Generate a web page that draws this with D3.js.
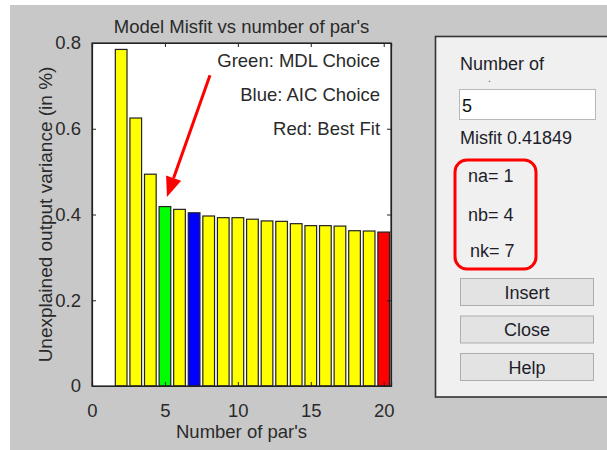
<!DOCTYPE html>
<html>
<head>
<meta charset="utf-8">
<script src="https://cdn.jsdelivr.net/npm/d3@7"></script>
<style>
  html, body { margin: 0; padding: 0; background: #ffffff; }
  svg { display: block; }
  text { font-family: "Liberation Sans", Arial, sans-serif; }
</style>
</head>
<body>
<script>
// ---------- data ----------
const numPars   = [2, 3, 4, 5, 6, 7, 8, 9, 10, 11, 12, 13, 14, 15, 16, 17, 18, 19, 20];
const misfit    = [0.785, 0.625, 0.494, 0.4185, 0.412, 0.404, 0.3965, 0.3926, 0.3926, 0.389,
                   0.385, 0.384, 0.3786, 0.374, 0.374, 0.373, 0.3622, 0.3615, 0.359];
const mdlChoice = 5;
const aicChoice = 7;
const bestFit   = 20;
const xTicks    = [0, 5, 10, 15, 20];
const yTicks    = [0, 0.2, 0.4, 0.6, 0.8];
const notes     = ["Green: MDL Choice", "Blue: AIC Choice", "Red: Best Fit"];
const noteY     = [0.745, 0.665, 0.585];
const arrowFrom = [8.09, 0.725];
const arrowTo   = [5.14, 0.441];
const panelLines = ["na= 1", "nb= 4", "nk= 7"];
const buttons   = ["Insert", "Close", "Help"];
const selectedN = "5";
const misfitTxt = "0.41849";

// ---------- layout ----------
const W = 607, H = 450;
const m = { left: 92, top: 43, right: 391, bottom: 386 };

const svg = d3.select("body").append("svg").attr("width", W).attr("height", H);

svg.append("rect").attr("x", 10).attr("y", 5).attr("width", W - 10).attr("height", H - 5)
  .attr("fill", "#c8c8c8");

const x = d3.scaleLinear().domain([0, 20.5]).range([m.left, m.right]);
const y = d3.scaleLinear().domain([0, 0.8]).range([m.bottom, m.top]);

// axes background
svg.append("rect").attr("x", m.left).attr("y", m.top)
  .attr("width", m.right - m.left).attr("height", m.bottom - m.top)
  .attr("fill", "#ffffff");

// bars
const bw = x(0.8) - x(0);
const colorOf = n => n === mdlChoice ? "#00ff00" : n === aicChoice ? "#0000ff" : n === bestFit ? "#ff0000" : "#ffff00";
svg.append("g").selectAll("rect").data(numPars).join("rect")
  .attr("x", (d) => x(d) - bw / 2)
  .attr("y", (d, i) => y(misfit[i]))
  .attr("width", bw)
  .attr("height", (d, i) => y(0) - y(misfit[i]))
  .attr("fill", d => colorOf(d))
  .attr("stroke", "#222")
  .attr("stroke-width", 1.2);

// axes (inward ticks, MATLAB box)
const fs = 18.5;
const axB = svg.append("g").attr("transform", `translate(0,${m.bottom})`)
  .call(d3.axisBottom(x).tickValues(xTicks).tickSize(-4).tickPadding(18).tickFormat(d3.format("d")));
const axT = svg.append("g").attr("transform", `translate(0,${m.top})`)
  .call(d3.axisTop(x).tickValues(xTicks).tickSize(-4).tickFormat(""));
const axL = svg.append("g").attr("transform", `translate(${m.left},0)`)
  .call(d3.axisLeft(y).tickValues(yTicks).tickSize(-4).tickPadding(11).tickFormat(d => d === 0 ? "0" : d3.format(".1f")(d)));
const axR = svg.append("g").attr("transform", `translate(${m.right},0)`)
  .call(d3.axisRight(y).tickValues(yTicks).tickSize(-4).tickFormat(""));
[axB, axT, axL, axR].forEach(a => {
  a.select(".domain").attr("stroke", "#222").attr("stroke-width", 1.2);
  a.selectAll(".tick line").attr("stroke", "#222");
  a.selectAll("text").attr("font-family", "Liberation Sans, Arial, sans-serif")
    .attr("font-size", fs).attr("fill", "#2a2a2a");
});
svg.append("rect").attr("x", m.left).attr("y", m.top)
  .attr("width", m.right - m.left).attr("height", m.bottom - m.top)
  .attr("fill", "none").attr("stroke", "#222").attr("stroke-width", 1.2);

// title and labels
svg.append("text").attr("x", (m.left + m.right) / 2).attr("y", 33)
  .attr("text-anchor", "middle").attr("font-size", fs).attr("fill", "#2a2a2a")
  .text("Model Misfit vs number of par's");
svg.append("text").attr("x", (m.left + m.right) / 2).attr("y", 438)
  .attr("text-anchor", "middle").attr("font-size", fs).attr("fill", "#2a2a2a")
  .text("Number of par's");
svg.append("text").attr("transform", `translate(52,${(m.top + m.bottom) / 2}) rotate(-90)`)
  .attr("text-anchor", "middle").attr("font-size", 19).attr("fill", "#2a2a2a")
  .text("Unexplained output variance (in %)");

// annotations
svg.append("g").selectAll("text").data(notes).join("text")
  .attr("x", x(19.75)).attr("y", (d, i) => y(noteY[i]))
  .attr("text-anchor", "end").attr("font-size", fs).attr("fill", "#2a2a2a")
  .text(d => d);

// arrow
const x1 = x(arrowFrom[0]), y1 = y(arrowFrom[1]), x2 = x(arrowTo[0]), y2 = y(arrowTo[1]);
const ang = Math.atan2(y2 - y1, x2 - x1);
const headL = 20, headW = 8;
const bx = x2 - headL * Math.cos(ang), by = y2 - headL * Math.sin(ang);
svg.append("line").attr("x1", x1).attr("y1", y1).attr("x2", bx).attr("y2", by)
  .attr("stroke", "#ff0000").attr("stroke-width", 3);
svg.append("path")
  .attr("d", `M${x2},${y2} L${bx + headW * Math.sin(ang)},${by - headW * Math.cos(ang)} L${bx - headW * Math.sin(ang)},${by + headW * Math.cos(ang)} Z`)
  .attr("fill", "#ff0000");

// ---------- side panel ----------
const p = svg.append("g");
p.append("rect").attr("x", 435.5).attr("y", 36.5).attr("width", 200).attr("height", 360.5)
  .attr("fill", "#f0f0f0").attr("stroke", "#333").attr("stroke-width", 1.6);
const pfs = 18;
const pcol = "#1e1e2a";
p.append("text").attr("x", 460).attr("y", 70).attr("font-size", pfs).attr("fill", pcol).text("Number of");
p.append("text").attr("x", 488).attr("y", 82).attr("font-size", 10).attr("fill", "#3050a0").text(".");
p.append("rect").attr("x", 459.5).attr("y", 89.5).attr("width", 136).attr("height", 30)
  .attr("fill", "#ffffff").attr("stroke", "#b8b8b8").attr("stroke-width", 1);
p.append("text").attr("x", 462).attr("y", 112).attr("font-size", pfs).attr("fill", "#111").text(selectedN);
p.append("text").attr("x", 460).attr("y", 144).attr("font-size", pfs).attr("fill", pcol).text("Misfit");
p.append("text").attr("x", 507).attr("y", 144).attr("font-size", pfs).attr("fill", pcol).text(misfitTxt);
p.append("rect").attr("x", 455).attr("y", 160).attr("width", 81).attr("height", 109).attr("rx", 12)
  .attr("fill", "none").attr("stroke", "#ff0000").attr("stroke-width", 3);
p.append("g").selectAll("text").data(panelLines).join("text")
  .attr("x", (d, i) => i === 2 ? 470 : 468).attr("y", (d, i) => [182, 220.5, 256.5][i])
  .attr("font-size", pfs).attr("fill", pcol).text(d => d);
const bg = p.append("g").selectAll("g").data(buttons).join("g")
  .attr("transform", (d, i) => `translate(460.5,${278.5 + i * 37.5})`);
bg.append("rect").attr("width", 133).attr("height", 27)
  .attr("fill", "#e3e3e3").attr("stroke", "#adadad").attr("stroke-width", 1);
bg.append("text").attr("x", 66.5).attr("y", 20).attr("text-anchor", "middle")
  .attr("font-size", pfs).attr("fill", pcol).text(d => d);
</script>
</body>
</html>
